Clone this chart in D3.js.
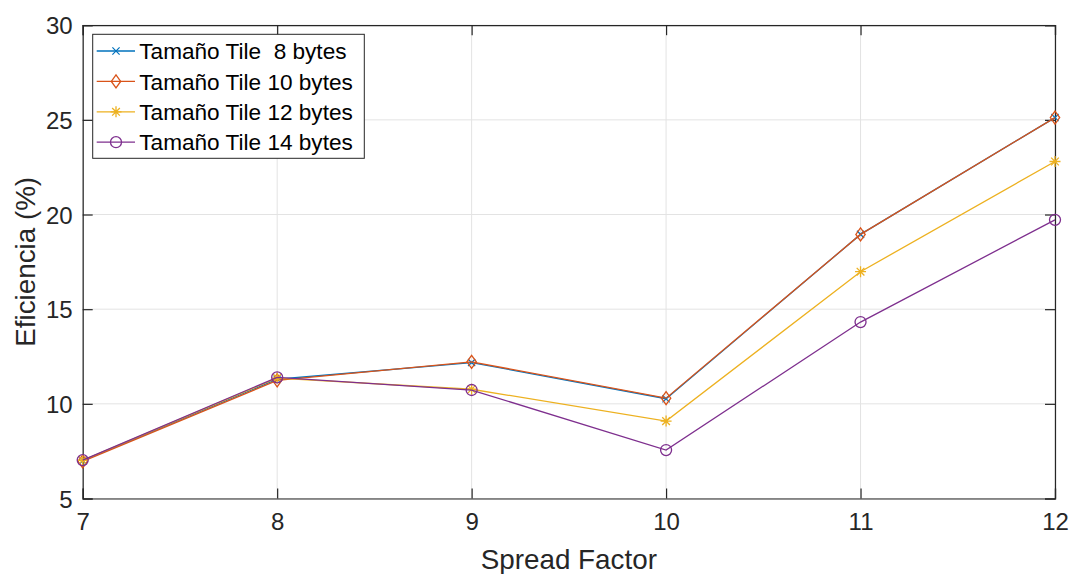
<!DOCTYPE html>
<html>
<head>
<meta charset="utf-8">
<script src="https://cdn.jsdelivr.net/npm/d3@7"></script>
<style>
  html, body { margin: 0; padding: 0; background: #fff; }
  svg { display: block; font-family: "Liberation Sans", Arial, Helvetica, sans-serif; }
</style>
</head>
<body>
<svg id="chart" width="1070" height="574"></svg>
<script>
// Spread factors on the x axis
const spreadFactors = [7, 8, 9, 10, 11, 12];

// Efficiency (%) per tile size
const tile8  = [7.0, 11.3, 12.18, 10.27, 18.95, 25.12];
const tile10 = [6.96, 11.24, 12.22, 10.3, 18.95, 25.12];
const tile12 = [7.02, 11.36, 10.77, 9.09, 16.98, 22.8];
const tile14 = [7.03, 11.4, 10.73, 7.56, 14.32, 19.72];

const seriesNames = ["Tamaño Tile  8 bytes", "Tamaño Tile 10 bytes", "Tamaño Tile 12 bytes", "Tamaño Tile 14 bytes"];
const seriesValues = [tile8, tile10, tile12, tile14];
const seriesColors = ["#0072BD", "#D95319", "#EDB120", "#7E2F8E"];
const seriesMarkers = ["x", "diamond", "star", "circle"];

const xTicks = [7, 8, 9, 10, 11, 12];
const yTicks = [5, 10, 15, 20, 25, 30];

(function () {
const svg = d3.select("#chart");
const plotL = 82.7, plotR = 1055, plotT = 25.2, plotB = 498.5;
const axisColor = "#262626";

const x = d3.scaleLinear().domain([7, 12]).range([plotL, plotR]);
const y = d3.scaleLinear().domain([5, 30]).range([plotB, plotT]);

// grid
const grid = svg.append("g");
grid.selectAll("line.gx").data(xTicks).join("line")
  .attr("x1", d => x(d)).attr("x2", d => x(d))
  .attr("y1", plotT).attr("y2", plotB)
  .attr("stroke", "#e3e3e3").attr("stroke-width", 1);
grid.selectAll("line.gy").data(yTicks).join("line")
  .attr("x1", plotL).attr("x2", plotR)
  .attr("y1", d => y(d)).attr("y2", d => y(d))
  .attr("stroke", "#e3e3e3").attr("stroke-width", 1);

// axes (ticks point inward, box on all sides)
const tickLen = 10;
const fmt = d3.format("d");
const xAxisBottom = d3.axisBottom(x).tickValues(xTicks).tickSize(-tickLen).tickPadding(14).tickFormat(fmt);
const xAxisTop = d3.axisTop(x).tickValues(xTicks).tickSize(-tickLen).tickFormat("");
const yAxisLeft = d3.axisLeft(y).tickValues(yTicks).tickSize(-tickLen).tickPadding(10).tickFormat(fmt);
const yAxisRight = d3.axisRight(y).tickValues(yTicks).tickSize(-tickLen).tickFormat("");

function styleAxis(g) {
  g.select(".domain").attr("stroke", axisColor).attr("stroke-width", 1.2);
  g.selectAll(".tick line").attr("stroke", axisColor).attr("stroke-width", 1.2);
  g.selectAll(".tick text").attr("fill", axisColor).attr("font-size", 24)
    .attr("font-family", "'Liberation Sans', Arial, sans-serif");
}

svg.append("g").attr("transform", `translate(0,${plotB})`).call(xAxisBottom).call(styleAxis)
  .call(g => g.selectAll(".tick text").attr("dy", "0.71em"));
svg.append("g").attr("transform", `translate(0,${plotT})`).call(xAxisTop).call(styleAxis);
svg.append("g").attr("transform", `translate(${plotL},0)`).call(yAxisLeft).call(styleAxis)
  .call(g => g.selectAll(".tick text").attr("dy", "0.36em"));
svg.append("g").attr("transform", `translate(${plotR},0)`).call(yAxisRight).call(styleAxis);

// marker drawing
function drawMarker(g, type, cx, cy, color) {
  if (type === "x") {
    const s = 3.6;
    g.append("path").attr("d", `M${cx - s},${cy - s}L${cx + s},${cy + s}M${cx - s},${cy + s}L${cx + s},${cy - s}`)
      .attr("stroke", color).attr("stroke-width", 1.2).attr("fill", "none");
  } else if (type === "diamond") {
    const s = 6.5;
    g.append("path").attr("d", `M${cx},${cy - s}L${cx + s * 0.72},${cy}L${cx},${cy + s}L${cx - s * 0.72},${cy}Z`)
      .attr("stroke", color).attr("stroke-width", 1.3).attr("fill", "none");
  } else if (type === "star") {
    const s = 5.5, d = s * 0.7;
    g.append("path").attr("d",
      `M${cx - s},${cy}L${cx + s},${cy}M${cx},${cy - s}L${cx},${cy + s}` +
      `M${cx - d},${cy - d}L${cx + d},${cy + d}M${cx - d},${cy + d}L${cx + d},${cy - d}`)
      .attr("stroke", color).attr("stroke-width", 1.3).attr("fill", "none");
  } else if (type === "circle") {
    g.append("circle").attr("cx", cx).attr("cy", cy).attr("r", 5.5)
      .attr("stroke", color).attr("stroke-width", 1.3).attr("fill", "none");
  }
}

// series lines and markers
const line = d3.line().x((d, i) => x(spreadFactors[i])).y(d => y(d));
seriesValues.forEach((vals, k) => {
  const g = svg.append("g");
  g.append("path").datum(vals).attr("d", line)
    .attr("fill", "none").attr("stroke", seriesColors[k]).attr("stroke-width", 1.3);
  vals.forEach((v, i) => drawMarker(g, seriesMarkers[k], x(spreadFactors[i]), y(v), seriesColors[k]));
});

// legend
const lg = svg.append("g");
const lgX = 92.7, lgY = 34.3, lgW = 271.6, lgH = 124;
lg.append("rect").attr("x", lgX).attr("y", lgY).attr("width", lgW).attr("height", lgH)
  .attr("fill", "#fff").attr("stroke", axisColor).attr("stroke-width", 1);
seriesNames.forEach((name, k) => {
  const ry = 51 + k * 30.4;
  lg.append("line").attr("x1", 96.7).attr("x2", 135).attr("y1", ry).attr("y2", ry)
    .attr("stroke", seriesColors[k]).attr("stroke-width", 1.3);
  drawMarker(lg, seriesMarkers[k], 116, ry, seriesColors[k]);
  lg.append("text").attr("x", 139.3).attr("y", ry).attr("dy", "0.36em")
    .attr("font-size", 22.6).attr("fill", "#000").attr("xml:space", "preserve")
    .style("white-space", "pre").text(name);
});

// axis labels
svg.append("text").attr("x", (plotL + plotR) / 2).attr("y", 568.5)
  .attr("text-anchor", "middle").attr("font-size", 27.8).attr("fill", axisColor)
  .text("Spread Factor");
svg.append("text").attr("transform", `translate(35,${(plotT + plotB) / 2}) rotate(-90)`)
  .attr("text-anchor", "middle").attr("font-size", 27.8).attr("fill", axisColor)
  .text("Eficiencia (%)");
})();
</script>
</body>
</html>
